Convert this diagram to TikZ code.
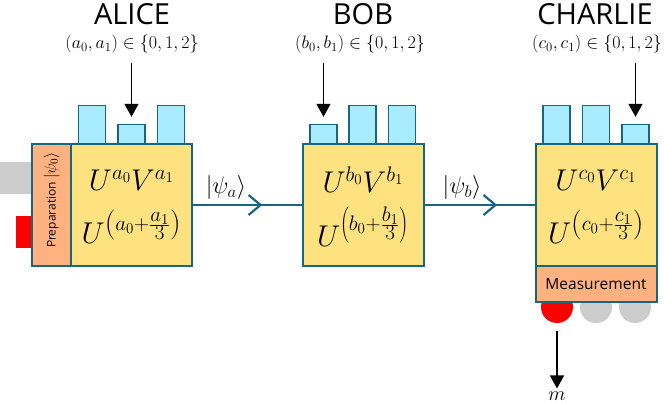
\RequirePackage{fix-cm}
\documentclass[tikz,border=0pt]{standalone}
\usepackage{fontspec}
\setsansfont{Open Sans}
\usetikzlibrary{arrows.meta,decorations.markings}
\definecolor{edgecol}{RGB}{22,104,130}
\definecolor{boxyellow}{RGB}{255,226,128}
\definecolor{peach}{RGB}{255,178,128}
\definecolor{barblue}{RGB}{170,236,255}
\definecolor{lgray}{RGB}{204,204,204}
\definecolor{pred}{RGB}{255,0,0}
\newcommand{\sfr}[2]{\frac{\scriptstyle #1}{\scriptstyle #2}}
\tikzset{
  gatebox/.style={draw=edgecol, line width=2pt, fill=boxyellow, minimum width=121pt, minimum height=122pt, inner sep=0pt, outer sep=0pt},
  prepbox/.style={draw=edgecol, line width=2pt, fill=peach, minimum width=39pt, minimum height=122pt, inner sep=0pt, outer sep=0pt},
  measbox/.style={draw=edgecol, line width=2pt, fill=peach, minimum width=121pt, minimum height=36pt, inner sep=0pt, outer sep=0pt},
  tallbar/.style={draw=edgecol, line width=1.2pt, fill=barblue, minimum width=27pt, minimum height=38pt, inner sep=0pt, anchor=south},
  shortbar/.style={draw=edgecol, line width=1.2pt, fill=barblue, minimum width=27pt, minimum height=19pt, inner sep=0pt, anchor=south},
  title/.style={font=\sffamily\fontsize{29}{32}\selectfont, inner sep=0pt},
  setlbl/.style={font=\fontsize{18}{20}\selectfont, inner sep=2pt},
  gatetxt/.style={font=\fontsize{30}{33}\selectfont, inner sep=0pt},
  psilbl/.style={font=\fontsize{24}{26}\selectfont, inner sep=0pt},
  dot/.style={circle, minimum size=32pt, inner sep=0pt, draw=none},
  conn/.style={draw=edgecol, line width=2.2pt},
  chev/.style={postaction={decorate, decoration={markings, mark=at position #1 with {\arrow{Straight Barb[length=12pt,width=20pt,line width=2.2pt]}}}}},
  inarrow/.style={draw=black, line width=1.4pt, -{Triangle[length=13pt,width=14pt]}},
}
\begin{document}
\begin{tikzpicture}[x=1pt,y=-1pt]
\useasboundingbox (0,0) rectangle (664,403);
% side blocks
\fill[lgray] (0,162) rectangle (32,194);
\fill[pred] (16,216) rectangle (32,248);
% bottom dots
\node[dot, fill=pred] (d1) at (557,307) {};
\node[dot, fill=lgray] (d2) at (596,307) {};
\node[dot, fill=lgray] (d3) at (635,307) {};
% bars
\node[tallbar] (a1) at (92,144) {};
\node[shortbar] (a2) at (131.5,144) {};
\node[tallbar] (a3) at (171,144) {};
\node[shortbar] (b1) at (323.5,144) {};
\node[tallbar] (b2) at (362.5,144) {};
\node[tallbar] (b3) at (402,144) {};
\node[tallbar] (c1) at (556.5,144) {};
\node[tallbar] (c2) at (596,144) {};
\node[shortbar] (c3) at (635.5,144) {};
% boxes
\node[prepbox] (prep) at (51.5,205) {};
\node[gatebox] (alice) at (131.5,205) {};
\node[gatebox] (bob) at (363,205) {};
\node[gatebox] (charlie) at (596,205) {};
\node[measbox] (meas) at (596,284) {\sffamily\fontsize{15.5}{17}\selectfont Measurement};
\node[rotate=90, font=\sffamily\fontsize{12}{13}\selectfont, inner sep=0pt] (preptxt) at (51.5,200) {Preparation {\fontsize{16}{17}\selectfont$|\psi_0\rangle$}};
% gate texts
\node[gatetxt] (ta1) at (131.5,180) {$U^{a_0}V^{a_1}$};
\node[gatetxt] (ta2) at (131.5,227) {$U^{\left(a_0+\sfr{a_1}{3}\right)}$};
\node[gatetxt] (tb1) at (363,180) {$U^{b_0}V^{b_1}$};
\node[gatetxt] (tb2) at (363,227) {$U^{\left(b_0+\sfr{b_1}{3}\right)}$};
\node[gatetxt] (tc1) at (596,180) {$U^{c_0}V^{c_1}$};
\node[gatetxt] (tc2) at (596,227) {$U^{\left(c_0+\sfr{c_1}{3}\right)}$};
% titles
\node[title] (ta) at (132,14) {ALICE};
\node[title] (tb) at (363,14) {BOB};
\node[title] (tc) at (595,14) {CHARLIE};
\node[setlbl] (la) at (132,44) {$(a_0,a_1)\in\{0,1,2\}$};
\node[setlbl] (lb) at (360,44) {$(b_0,b_1)\in\{0,1,2\}$};
\node[setlbl] (lc) at (597,44) {$(c_0,c_1)\in\{0,1,2\}$};
% input arrows
\draw[inarrow, shorten >=7pt] (la.south -| a2.north) ++(0,8) coordinate (sa) -- (a2.north);
\draw[inarrow, shorten >=7pt] (lb.south -| b1.north) ++(0,8) coordinate (sb) -- (b1.north);
\draw[inarrow, shorten >=7pt] (lc.south -| c3.north) ++(0,8) coordinate (sc) -- (c3.north);
% connectors
\draw[conn, chev=0.636] (alice.east) -- (bob.west);
\draw[conn, chev=0.658] (bob.east) -- (charlie.west);
\node[psilbl] (pa) at (226,188) {$|\psi_a\rangle$};
\node[psilbl] (pb) at (462,188) {$|\psi_b\rangle$};
% output
\node[font=\fontsize{20}{22}\selectfont, inner sep=0pt] (m) at (557,396) {$m$};
\draw[inarrow, shorten <=8pt, shorten >=3pt] (d1.south) -- (m.north);
\end{tikzpicture}
\end{document}
